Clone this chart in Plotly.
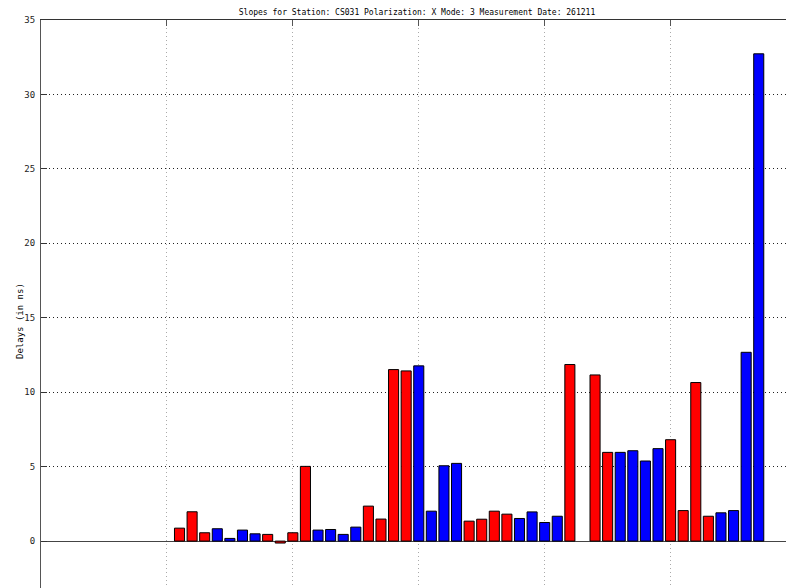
import plotly.graph_objects as go

# Bar positions (antenna index) and delay values
red_x = [11, 12, 13, 18, 19, 20, 21, 26, 27, 28, 29, 34, 35, 36, 37, 42, 44, 45, 50, 51, 52, 53]
red_y = [0.87, 1.97, 0.56, 0.45, -0.13, 0.56, 5.02, 2.35, 1.48, 11.52, 11.43,
         1.34, 1.47, 2.01, 1.81, 11.86, 11.16, 5.96, 6.81, 2.05, 10.65, 1.67]
blue_x = [14, 15, 16, 17, 22, 23, 24, 25, 30, 31, 32, 33, 38, 39, 40, 41, 46, 47, 48, 49, 54, 55, 56, 57]
blue_y = [0.83, 0.18, 0.74, 0.49, 0.74, 0.78, 0.45, 0.94, 11.77, 2.01, 5.06, 5.22,
          1.52, 1.96, 1.25, 1.67, 5.96, 6.07, 5.38, 6.21, 1.90, 2.05, 12.68, 32.73]

y_ticks = [0, 5, 10, 15, 20, 25, 30, 35]
x_ticks = [10, 20, 30, 40, 50]

title_text = "Slopes for Station: CS031 Polarization: X Mode: 3 Measurement Date: 261211"
ylabel_text = "Delays (in ns)"

FONT = "DejaVu Sans Mono"

fig = go.Figure()
fig.add_trace(go.Bar(x=red_x, y=red_y, width=0.8,
                     marker=dict(color="#ff0000", line=dict(color="black", width=1)),
                     showlegend=False))
fig.add_trace(go.Bar(x=blue_x, y=blue_y, width=0.8,
                     marker=dict(color="#0000ff", line=dict(color="black", width=1)),
                     showlegend=False))
# invisible trace for right-side tick marks
fig.add_trace(go.Scatter(x=[None], y=[None], yaxis="y2", showlegend=False))

W, H = 786, 580
yr = [-3.15, 35]
fig.update_layout(
    width=W, height=H,
    margin=dict(l=33, r=0, t=12, b=0),
    paper_bgcolor="white", plot_bgcolor="white",
    barmode="overlay",
    font=dict(family=FONT, size=8, color="black"),
    title=dict(text=title_text, x=409 / W, xanchor="center", y=1 - 4 / H, yanchor="middle",
               font=dict(family=FONT, size=8, color="black")),
    xaxis=dict(range=[0, 59.8], side="top", tickvals=x_ticks, showticklabels=False,
               ticks="inside", ticklen=6, tickcolor="#555", showline=True, linecolor="#333",
               linewidth=1, showgrid=True, gridcolor="#aaa", griddash="1px,3px", gridwidth=1,
               zeroline=False),
    yaxis=dict(range=yr, tickvals=y_ticks, ticks="inside", ticklen=6, tickcolor="#333",
               showline=True, linecolor="#555", linewidth=1, showgrid=True,
               gridcolor="#222", griddash="1px,3px", gridwidth=1,
               zeroline=True, zerolinecolor="#444", zerolinewidth=1,
               ticklabelstandoff=3,
               tickfont=dict(family=FONT, size=9, color="#222")),
    yaxis2=dict(range=yr, overlaying="y", side="right", tickvals=y_ticks, ticks="inside",
                ticklen=6, tickcolor="#333", showticklabels=False, showline=False,
                showgrid=False, zeroline=False),
    annotations=[dict(text=ylabel_text, xref="paper", yref="paper", x=0, y=0.47,
                      xshift=-28, textangle=-90, showarrow=False,
                      font=dict(family=FONT, size=9, color="black"))],
)

fig.write_html("out.html")
